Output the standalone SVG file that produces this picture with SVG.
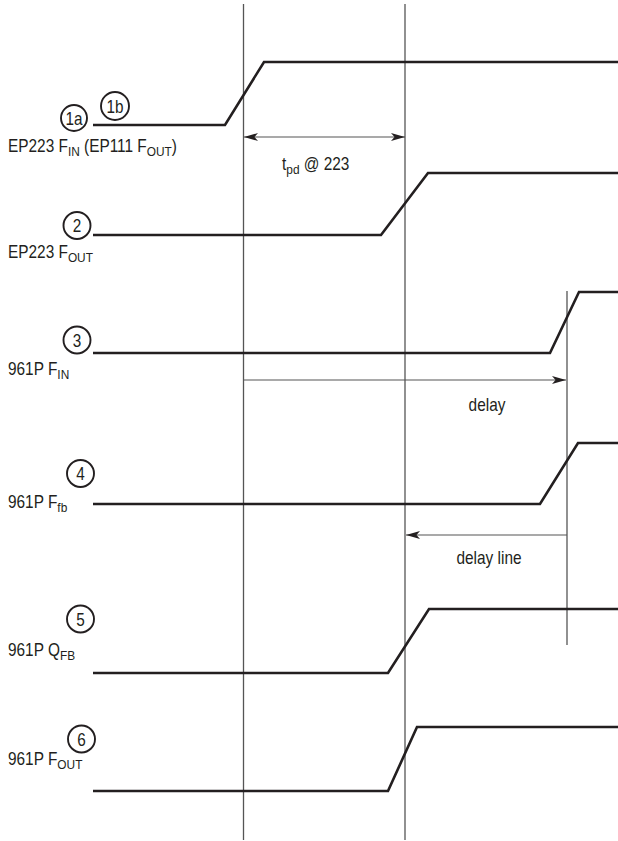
<svg xmlns="http://www.w3.org/2000/svg" width="618" height="841" viewBox="0 0 618 841">
<style>
.sig{fill:none;stroke:#231f20;stroke-width:2.6;stroke-linejoin:miter}
.grid{stroke:#555;stroke-width:1.3;fill:none}
.arr{stroke:#555;stroke-width:1.2;fill:none}
.ring{fill:none;stroke:#231f20;stroke-width:1.9}
text{font-family:"Liberation Sans",Arial,sans-serif;fill:#231f20}
.lbl{font-size:17.5px}
.num{font-size:18px;text-anchor:middle}
.sub{font-size:13.5px}
</style>
<defs>
<marker id="ah" viewBox="0 0 14 8" refX="14" refY="4" markerWidth="14" markerHeight="8" markerUnits="userSpaceOnUse" orient="auto-start-reverse">
<path d="M0,0 L14,4 L0,8 L3.5,4 Z" fill="#231f20"/>
</marker>
</defs>
<g id="connectors">
<line class="grid" x1="243.5" y1="4" x2="243.5" y2="840"/>
<line class="grid" x1="405" y1="4" x2="405" y2="840"/>
<line class="grid" x1="567" y1="291" x2="567" y2="645"/>
<line class="arr" x1="244" y1="137" x2="405" y2="137" marker-start="url(#ah)" marker-end="url(#ah)"/>
<line class="arr" x1="244" y1="380" x2="566" y2="380" marker-end="url(#ah)"/>
<line class="arr" x1="567" y1="535" x2="406" y2="535" marker-end="url(#ah)"/>
</g>
<g id="signal1">
<polyline class="sig" points="93,125 225,125 264,62 618,62"/>
<circle class="ring" cx="74" cy="118" r="13"/>
<text class="num" transform="translate(74,124.5) scale(0.85,1)">1a</text>
<circle class="ring" cx="115" cy="106" r="14"/>
<text class="num" transform="translate(115,112.5) scale(0.85,1)">1b</text>
<text class="lbl" transform="translate(8,152) scale(0.88,1)">EP223 F<tspan class="sub" dy="4">IN</tspan><tspan dy="-4"> (EP111 F</tspan><tspan class="sub" dy="4">OUT</tspan><tspan dy="-4">)</tspan></text>
</g>
<g id="tpd">
<text class="lbl" transform="translate(282,170) scale(0.88,1)">t<tspan class="sub" dy="4">pd</tspan><tspan dy="-4"> @ 223</tspan></text>
</g>
<g id="signal2">
<polyline class="sig" points="93,235 381,235 428,173 618,173"/>
<circle class="ring" cx="77" cy="225.5" r="13.5"/>
<text class="num" transform="translate(77,232) scale(0.85,1)">2</text>
<text class="lbl" transform="translate(8,258) scale(0.88,1)">EP223 F<tspan class="sub" dy="4">OUT</tspan></text>
</g>
<g id="signal3">
<polyline class="sig" points="93,353 550,353 579,292 618,292"/>
<circle class="ring" cx="77" cy="340" r="13.5"/>
<text class="num" transform="translate(77,346.5) scale(0.85,1)">3</text>
<text class="lbl" transform="translate(8,375) scale(0.88,1)">961P F<tspan class="sub" dy="4">IN</tspan></text>
</g>
<g id="delay">
<text class="lbl" text-anchor="middle" transform="translate(487,411) scale(0.88,1)">delay</text>
</g>
<g id="signal4">
<polyline class="sig" points="93,504 540,504 578,443 618,443"/>
<circle class="ring" cx="80.5" cy="473.5" r="13.5"/>
<text class="num" transform="translate(80.5,480) scale(0.85,1)">4</text>
<text class="lbl" transform="translate(8,508) scale(0.88,1)">961P F<tspan class="sub" dy="4">fb</tspan></text>
</g>
<g id="delayline">
<text class="lbl" text-anchor="middle" transform="translate(489,564) scale(0.88,1)">delay line</text>
</g>
<g id="signal5">
<polyline class="sig" points="93,673 388,673 429,609 618,609"/>
<circle class="ring" cx="80.5" cy="619" r="13.5"/>
<text class="num" transform="translate(80.5,625.5) scale(0.85,1)">5</text>
<text class="lbl" transform="translate(8,656) scale(0.88,1)">961P Q<tspan class="sub" dy="4">FB</tspan></text>
</g>
<g id="signal6">
<polyline class="sig" points="93,791 388,791 417,727 618,727"/>
<circle class="ring" cx="81.5" cy="739" r="13.5"/>
<text class="num" transform="translate(81.5,745.5) scale(0.85,1)">6</text>
<text class="lbl" transform="translate(8,765) scale(0.88,1)">961P F<tspan class="sub" dy="4">OUT</tspan></text>
</g>
</svg>
